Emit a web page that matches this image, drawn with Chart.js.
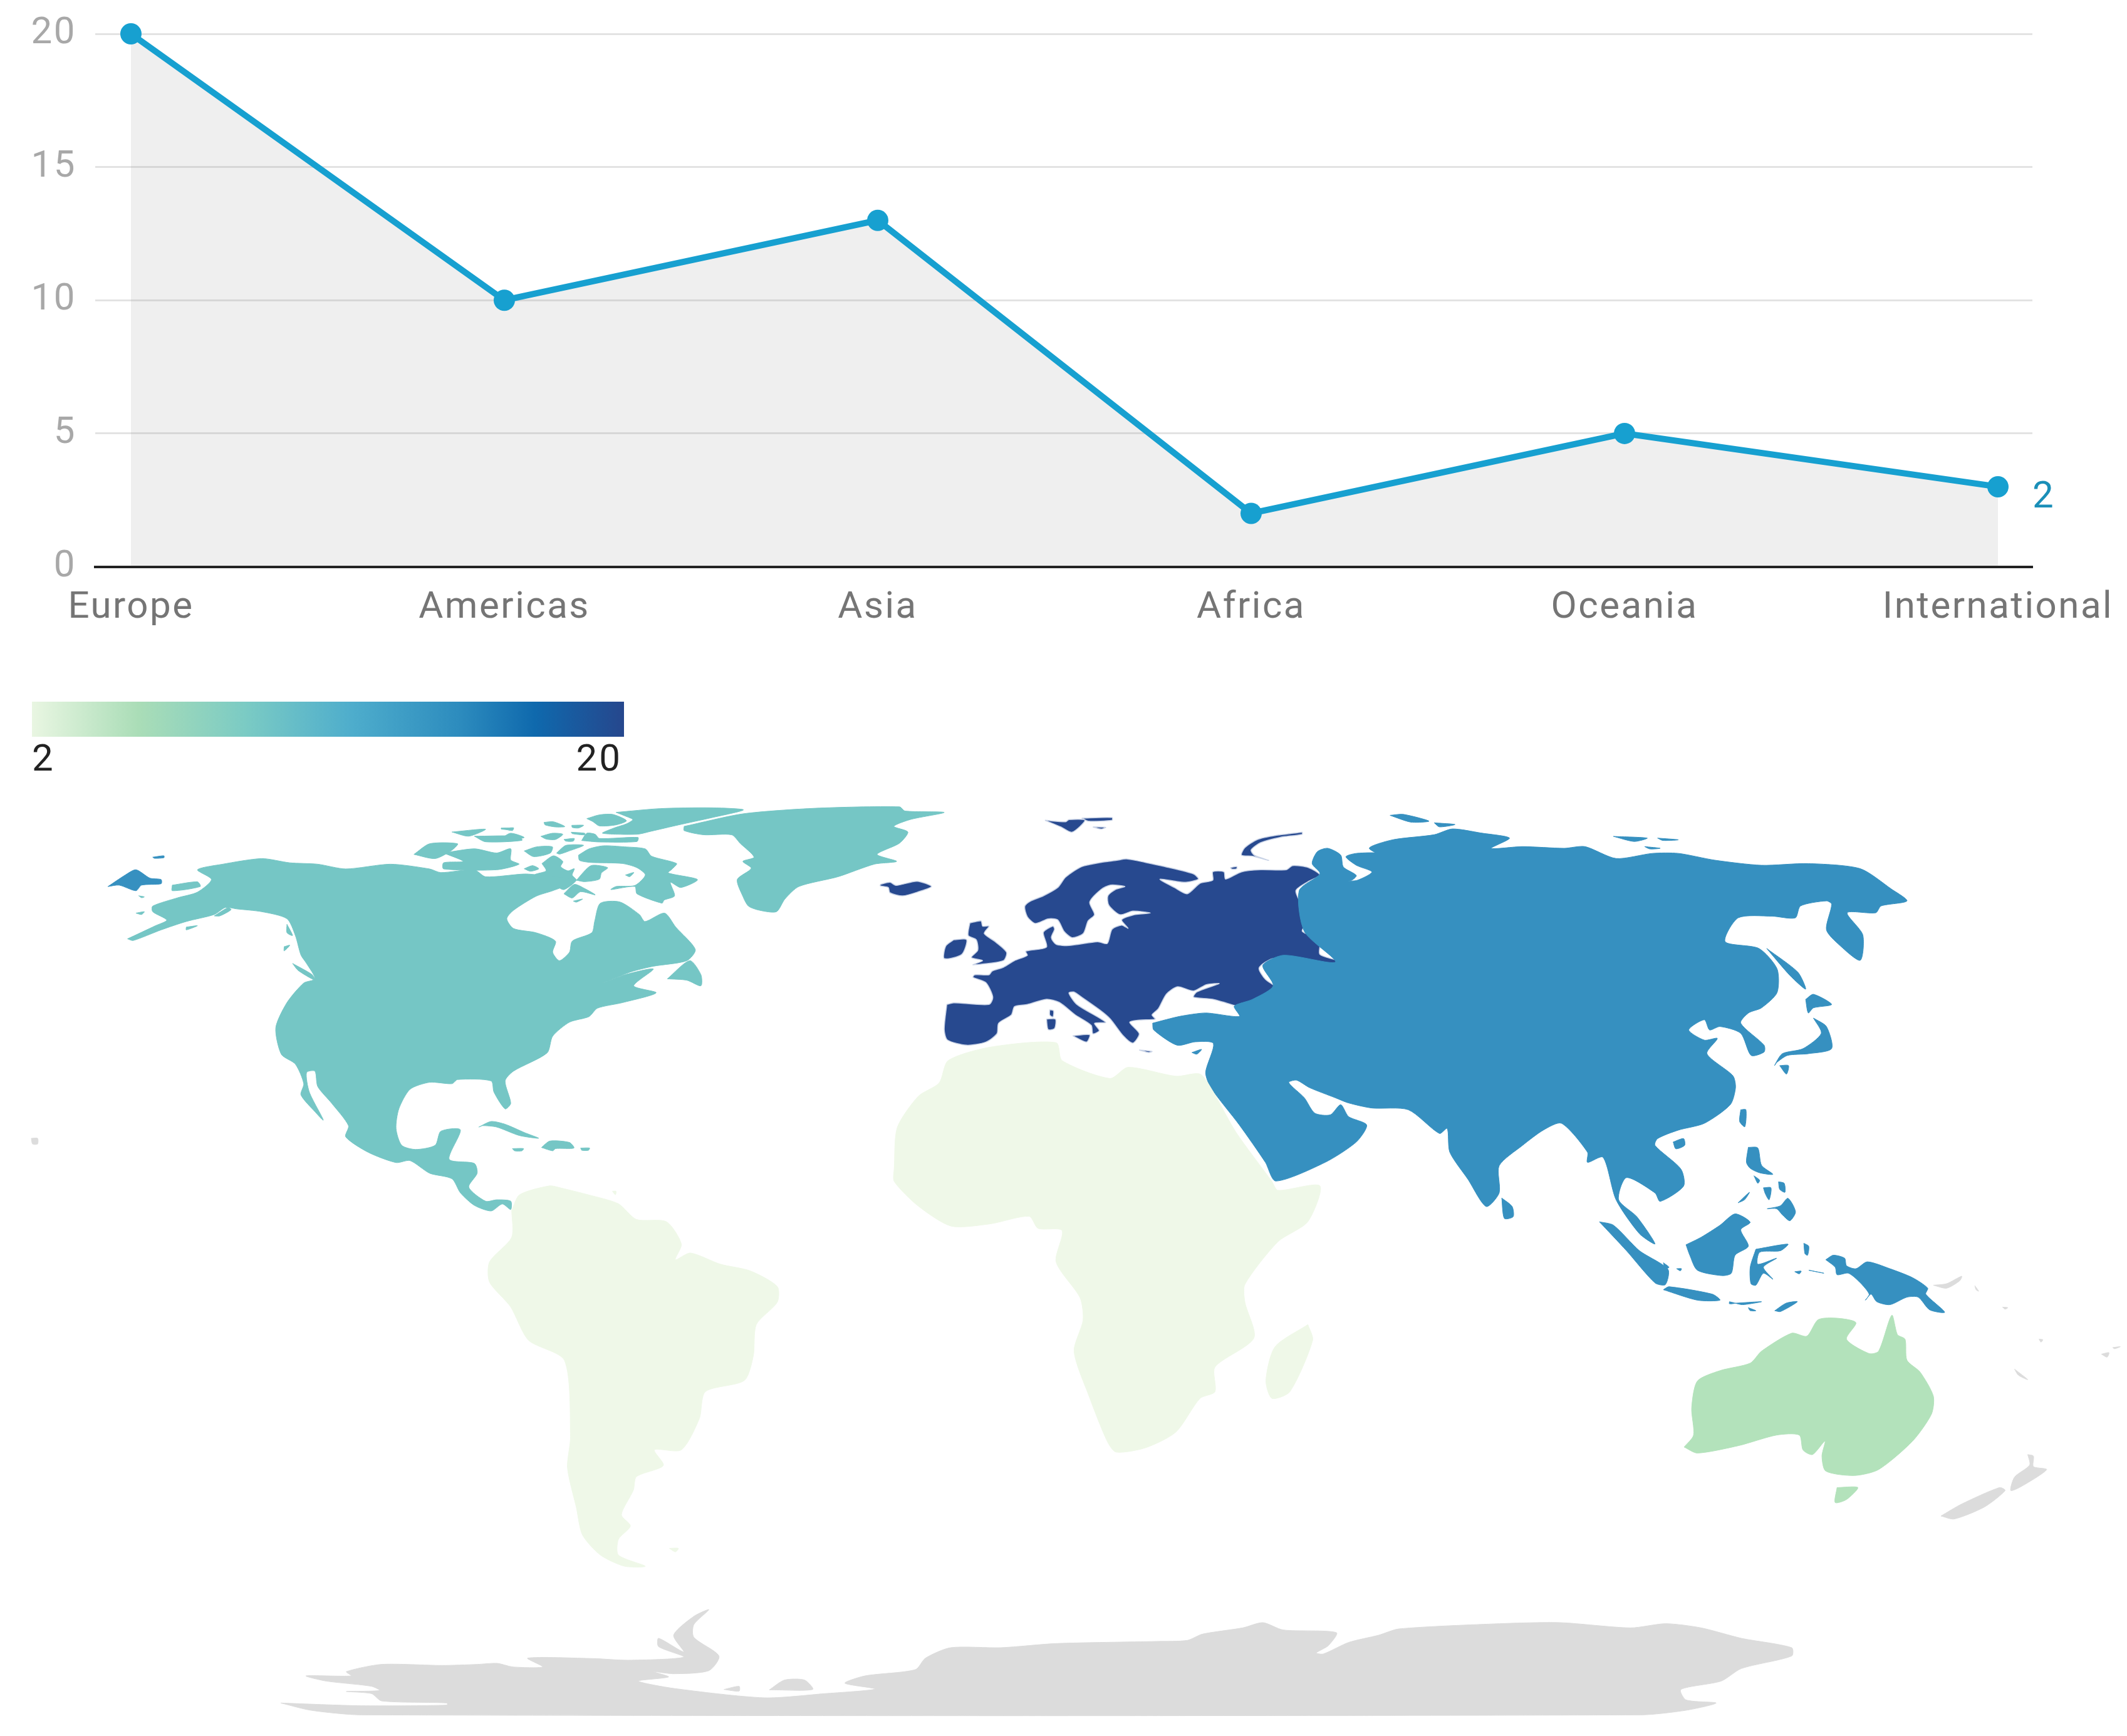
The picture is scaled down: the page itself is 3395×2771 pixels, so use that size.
<!DOCTYPE html>
<html>
<head>
<meta charset="utf-8">
<title>Regions</title>
<script src="https://cdn.jsdelivr.net/npm/chart.js@4"></script>
<style>
html,body{margin:0;padding:0;background:#fff;width:3395px;height:2771px;overflow:hidden;font-family:Roboto,sans-serif}
canvas{position:absolute;left:0;top:0}
#scaleBar{position:absolute;left:51px;top:1120px;width:945px;height:56px;
background:linear-gradient(to right,#e9f6e2 0%,#aaddb7 18%,#7bcbc4 36%,#4eadcc 54%,#2d8cbe 72%,#0f69ad 85%,#26478d 100%)}
.scaleLabel{position:absolute;top:1176px;font-size:60px;line-height:68px;color:#222;letter-spacing:3px}
</style>
</head>
<body>
<canvas id="mapChart" width="3395" height="2771"></canvas>
<canvas id="lineChart" width="3395" height="1040"></canvas>
<div id="scaleBar"></div>
<div class="scaleLabel" id="scaleMin" style="left:51px"></div>
<div class="scaleLabel" id="scaleMax" style="right:2402px"></div>
<script>

/* ---------------- LINE DATA ---------------- */

const regions = ["Europe","Americas","Asia","Africa","Oceania","International"]
const regionValues = [20,10,13,2,5,3]
const yTicks = [0,5,10,15,20]
const endLabel = "2"
const scaleRange = [2,20]


/* ---------------- MAP OUTLINES ---------------- */

// outlines were traced on zoomed crops, each crop is [left, top, scaleX, scaleY]
const CROP_NA = [150,1270,1.12,2.24]
const CROP_ARCTIC = [800,1280,3,3]
const CROP_EU = [1400,1270,1.96,3]
const CROP_AS = [1800,1270,1.206,1.845]
const CROP_SEA = [2450,1750,1.659,2.09]
const CROP_SOUTH = [700,1650,1.045,1.4]
const CROP_ANT = [400,2540,0.622,3]
const CROP_FULL = [0,0,1,1]

function shape(crop,flat){
const pts = []
for(let i=0;i<flat.length;i+=2){
pts.push({x:crop[0]+flat[i]/crop[2],y:crop[1]+flat[i+1]/crop[3]})
}
pts.push(pts[0])
return pts
}

const northAmerica = [
shape(CROP_NA,[60,512,110,465,130,445,105,415,105,395,150,365,185,345,210,300,185,265,230,245,300,225,350,240,400,245,450,262,530,245,600,262,620,275,680,265,700,290,770,280,800,285,855,300,845,320,820,340,790,360,750,410,738,440,750,475,790,490,825,520,820,560,832,590,850,560,855,520,890,490,895,450,905,385,940,380,975,425,985,450,1020,420,1040,470,1075,550,1060,590,1000,610,960,630,910,670,950,640,1000,620,965,680,1005,705,945,740,900,760,885,790,850,810,820,860,810,920,750,985,735,1020,745,1100,735,1120,715,1060,710,1020,650,1015,640,1030,600,1025,565,1050,545,1120,540,1190,550,1250,575,1265,610,1250,620,1200,655,1195,635,1300,680,1315,685,1350,670,1400,700,1450,720,1445,745,1450,745,1480,730,1460,710,1485,680,1465,655,1420,640,1370,600,1350,565,1305,540,1312,490,1275,450,1220,455,1180,425,1100,400,1040,395,985,380,990,385,1060,410,1160,395,1130,370,1070,375,1030,360,960,335,925,325,830,345,740,375,670,395,655,380,600,370,570,360,500,345,440,300,415,255,405,235,400,215,425,165,450,120,480,70,518]),
shape(CROP_NA,[572,210,600,172,650,172,640,195,610,225]),
shape(CROP_NA,[625,205,680,190,720,205,745,190,745,230,760,245,720,265,625,262,625,240,660,235]),
shape(CROP_NA,[640,130,700,120,670,145]),
shape(CROP_NA,[680,145,760,145,765,160,700,165]),
shape(CROP_NA,[730,118,750,115,748,125]),
shape(CROP_NA,[1025,655,1065,590,1085,640,1085,680,1060,660]),
shape(CROP_NA,[355,600,390,640,395,660,365,625]),
shape(CROP_NA,[340,540,350,535,340,555]),
shape(CROP_NA,[345,460,355,500,345,490]),
shape(CROP_NA,[165,470,185,465,165,480]),
shape(CROP_NA,[215,430,240,400,245,408,225,430]),
shape(CROP_NA,[140,320,185,308,190,325,140,340]),
shape(CROP_NA,[75,420,90,415,85,425]),
shape(CROP_NA,[80,358,90,362,85,365]),
shape(CROP_NA,[688,1185,710,1165,735,1175,770,1205,795,1225,760,1215,720,1185,695,1180]),
shape(CROP_NA,[800,1258,815,1235,850,1240,858,1260,825,1262,820,1270]),
shape(CROP_NA,[748,1262,768,1262,765,1270,752,1270]),
shape(CROP_NA,[870,1260,886,1260,884,1268,872,1268]),
shape(CROP_NA,[1055,110,1160,65,1290,45,1440,40,1450,55,1520,60,1460,85,1430,110,1455,130,1440,170,1400,210,1435,235,1395,245,1330,290,1260,325,1235,370,1220,415,1190,410,1170,395,1160,360,1150,300,1175,260,1160,235,1180,220,1155,170,1140,140,1090,140,1055,125]),
shape(CROP_ARCTIC,[550,50,760,32,1000,28,1160,38,1010,75,850,110,720,140,650,155,485,150,540,125,600,105,630,85,600,70]),
shape(CROP_ARCTIC,[410,80,470,62,535,60,600,90,550,110,470,115,440,95]),
shape(CROP_ARCTIC,[385,185,410,150,450,155,470,175,655,170,650,190,470,192]),
shape(CROP_ARCTIC,[335,145,400,150,400,158,340,152]),
shape(CROP_ARCTIC,[205,98,250,95,305,118,260,120,210,110]),
shape(CROP_ARCTIC,[338,112,395,112,370,125,340,122]),
shape(CROP_ARCTIC,[190,165,245,150,295,155,260,180,215,178]),
shape(CROP_ARCTIC,[300,180,350,175,345,188,310,188]),
shape(CROP_ARCTIC,[0,125,60,125,30,132,0,130]),
shape(CROP_ARCTIC,[0,175,45,150,110,170,60,180,0,185]),
shape(CROP_ARCTIC,[110,235,170,215,245,215,235,245,155,262]),
shape(CROP_ARCTIC,[265,245,310,208,395,208,325,235,280,250]),
shape(CROP_ARCTIC,[370,255,420,225,490,210,590,215,690,225,720,260,840,295,820,320,800,340,940,372,860,410,810,385,830,450,780,470,770,485,650,440,640,405,525,420,550,405,640,400,690,350,650,315,580,295,430,290,375,280]),
shape(CROP_ARCTIC,[195,295,250,258,295,285,285,310,320,330,350,320,340,350,360,375,300,420,260,400,160,350,215,330]),
shape(CROP_ARCTIC,[300,440,350,395,400,415,450,445,380,430,340,460]),
shape(CROP_ARCTIC,[345,475,390,465,360,480]),
shape(CROP_ARCTIC,[360,375,430,305,510,315,480,340,470,370,400,382]),
shape(CROP_ARCTIC,[110,320,150,305,180,320,140,332]),
shape(CROP_ARCTIC,[595,350,635,338,615,358])
]

const southAmerica = [
shape(CROP_SOUTH,[122,395,135,360,185,340,205,345,250,360,300,380,330,415,380,420,405,470,395,505,420,490,470,515,520,530,565,565,565,600,530,650,525,720,510,775,445,800,435,860,405,930,360,930,375,965,330,990,325,1020,305,1075,320,1100,300,1130,300,1165,345,1190,310,1190,270,1165,240,1120,230,1060,215,970,220,900,210,730,150,685,120,610,85,555,85,510,122,455]),
shape(CROP_SOUTH,[385,1150,400,1150,395,1158]),
shape(CROP_SOUTH,[290,352,296,352,295,360])
]

const africa = [
shape(CROP_SOUTH,[760,300,765,210,800,140,835,110,850,60,920,30,1030,20,1040,60,1120,100,1150,75,1230,95,1270,90,1290,125,1330,220,1390,330,1400,350,1470,340,1450,420,1400,465,1345,560,1345,600,1360,680,1295,745,1295,800,1270,815,1230,890,1180,925,1130,935,1115,910,1085,810,1060,710,1075,640,1070,590,1030,510,1040,440,1000,435,985,408,920,425,855,430,800,385,760,330]),
shape(CROP_SOUTH,[1450,650,1458,685,1420,800,1390,815,1380,775,1395,700])
]

const europe = [
shape(CROP_EU,[218,1000,240,992,350,1000,362,965,340,895,300,870,305,858,350,858,360,840,395,822,430,790,470,765,465,745,530,725,520,655,550,625,555,640,545,680,560,712,600,718,690,700,720,708,735,640,765,620,785,635,765,595,800,572,855,562,800,553,760,570,725,525,722,480,745,450,775,435,730,428,700,450,665,510,680,570,660,600,645,660,610,680,585,650,565,595,535,590,495,612,470,580,462,530,480,505,520,480,565,440,590,390,640,340,700,320,750,310,780,303,840,320,900,340,990,375,1005,400,960,415,885,400,930,440,970,470,1010,420,1050,405,1050,365,1085,365,1090,400,1140,365,1200,355,1280,355,1300,335,1350,345,1385,380,1350,410,1310,455,1330,530,1345,600,1330,650,1385,690,1385,760,1440,790,1430,805,1350,800,1240,780,1195,825,1215,880,1265,935,1255,970,1275,1020,1250,1055,1180,1030,1130,1010,1050,975,990,965,1000,940,1070,900,1030,905,990,935,940,915,905,950,880,1020,860,1050,870,1070,820,1075,790,1085,820,1140,800,1185,770,1150,730,1070,700,1030,640,965,615,940,600,945,625,1000,715,1085,680,1090,695,1125,675,1140,670,1100,620,1050,570,990,530,975,470,1000,430,1010,420,1050,380,1090,375,1140,340,1180,280,1195,220,1170,210,1120]),
shape(CROP_EU,[290,610,325,600,330,625,350,625,335,660,370,700,405,750,395,790,300,810,330,790,295,775,315,740,310,690,285,670]),
shape(CROP_EU,[240,690,280,690,265,760,210,780,215,720]),
shape(CROP_EU,[10,425,40,415,60,430,125,410,170,435,130,460,80,480,40,465,35,440,10,432]),
shape(CROP_EU,[525,118,590,125,600,115,650,118,610,175,575,150]),
shape(CROP_EU,[640,108,735,105,735,118,660,122]),
shape(CROP_EU,[675,150,715,152,700,160]),
shape(CROP_EU,[1330,175,1250,190,1190,210,1150,250,1140,285,1175,290,1225,310,1180,285,1170,260,1200,225,1260,200,1330,185]),
shape(CROP_EU,[540,1025,552,1030,550,1060,540,1050]),
shape(CROP_EU,[530,1070,558,1070,555,1115,535,1120]),
shape(CROP_EU,[612,1150,665,1145,655,1180]),
shape(CROP_EU,[820,1218,860,1225,850,1230]),
shape(CROP_EU,[1105,345,1125,340,1125,350,1110,352])
]

const asia = [
shape(CROP_AS,[48,670,100,650,150,640,215,650,205,620,240,600,280,560,260,500,300,470,400,490,340,400,330,280,370,230,355,200,365,165,385,155,410,175,415,210,440,235,430,250,410,250,440,250,470,225,440,205,420,180,440,170,490,170,510,190,465,155,510,130,590,115,625,98,680,110,735,125,700,155,760,150,840,155,880,150,940,185,1010,170,1060,170,1130,190,1220,205,1310,200,1410,215,1470,275,1500,310,1450,325,1440,345,1385,345,1415,410,1410,485,1370,440,1345,395,1355,320,1345,310,1295,325,1285,360,1240,355,1175,360,1150,430,1215,450,1250,510,1250,580,1220,625,1195,640,1180,670,1225,735,1225,755,1200,765,1180,700,1140,680,1120,690,1110,660,1080,690,1110,720,1135,715,1115,760,1165,825,1170,860,1160,910,1110,965,1060,985,1020,1010,1015,1030,1065,1100,1070,1150,1025,1195,1015,1170,960,1125,945,1190,980,1240,1015,1320,985,1290,940,1190,915,1065,885,1080,885,1050,835,965,800,985,760,1030,715,1090,715,1170,690,1210,655,1130,620,1050,615,980,600,995,540,925,470,920,425,905,400,890,350,860,325,838,310,845,340,890,360,935,390,940,410,910,425,945,460,970,440,1020,380,1080,285,1135,265,1080,215,970,160,860,150,815,165,730,130,725,95,735,50,690]),
shape(CROP_NA,[25,325,55,285,75,265,100,295,120,300,120,315,85,320,75,340,45,320]),
shape(CROP_NA,[105,220,125,215,125,222,108,224]),
shape(CROP_EU,[985,1230,1015,1215,1000,1238]),
shape(CROP_AS,[505,58,530,55,580,75,545,78]),
shape(CROP_AS,[590,80,630,85,600,92]),
shape(CROP_AS,[935,120,1000,125,975,135]),
shape(CROP_AS,[1020,125,1060,130,1030,132]),
shape(CROP_AS,[995,150,1025,155,1005,157]),
shape(CROP_AS,[1230,450,1290,520,1305,570,1275,530]),
shape(CROP_AS,[1305,600,1320,585,1355,615,1320,625,1310,640]),
shape(CROP_AS,[1320,655,1345,680,1355,745,1310,760,1270,765,1250,785,1245,795,1260,760,1300,745,1335,700]),
shape(CROP_AS,[1255,795,1272,795,1268,820]),
shape(CROP_AS,[1180,925,1190,925,1188,975,1178,960]),
shape(CROP_AS,[1050,1020,1070,1010,1072,1030,1055,1040]),
shape(CROP_AS,[720,1185,740,1210,742,1240,725,1245]),
shape(CROP_AS,[908,1255,935,1265,985,1340,1040,1395,1035,1440,1015,1435,960,1340]),
shape(CROP_SEA,[400,495,440,470,490,430,530,392,570,420,545,445,565,500,530,530,520,590,495,598,430,580,410,530]),
shape(CROP_SEA,[585,510,670,493,650,515,595,520,590,560,640,540,605,570,630,610,605,590,585,630,572,625,570,570]),
shape(CROP_SEA,[340,645,355,635,470,660,490,680,430,680]),
shape(CROP_SEA,[515,685,530,690,515,692]),
shape(CROP_SEA,[530,690,600,685,550,695]),
shape(CROP_SEA,[635,715,665,690,695,685,650,718]),
shape(CROP_SEA,[565,705,585,715,570,715]),
shape(CROP_SEA,[565,170,590,172,600,230,630,260,595,255,570,240,560,220]),
shape(CROP_SEA,[615,375,650,365,670,340,690,385,675,415,655,395,640,375]),
shape(CROP_SEA,[605,305,625,305,620,345,610,325]),
shape(CROP_SEA,[645,285,660,290,662,320,648,310]),
shape(CROP_SEA,[538,355,568,320,555,345]),
shape(CROP_SEA,[580,265,595,280,590,290]),
shape(CROP_SEA,[770,545,790,530,820,540,825,565,850,575,880,552,940,575,1000,605,1040,640,1035,660,1085,720,1045,712,1015,670,985,670,940,695,905,685,890,660,875,680,885,660,860,620,830,590,800,595,795,570]),
shape(CROP_SEA,[725,580,765,590,745,585]),
shape(CROP_SEA,[688,585,705,583,700,592]),
shape(CROP_SEA,[712,490,725,500,722,530,715,525]),
shape(CROP_SEA,[340,555,355,570,345,575]),
shape(CROP_SEA,[375,575,388,575,385,582])
]

const oceania = [
shape(CROP_SEA,[395,1170,420,1130,415,1040,430,950,490,915,570,890,600,850,680,790,720,800,750,745,800,740,850,755,825,810,885,858,910,850,945,730,960,795,980,810,985,880,1020,920,1055,1000,1050,1060,1000,1150,910,1245,845,1265,770,1250,760,1200,768,1150,735,1195,710,1180,700,1130,640,1130,540,1165,430,1190]),
shape(CROP_SEA,[800,1305,855,1305,825,1345,795,1355])
]

const noData = [
shape(CROP_SEA,[1305,1195,1320,1200,1320,1235,1355,1245,1290,1300,1260,1315,1270,1270,1310,1230]),
shape(CROP_SEA,[1075,1400,1130,1360,1230,1305,1245,1315,1190,1370,1110,1410]),
shape(CROP_SEA,[1270,910,1305,945,1280,930]),
shape(CROP_SEA,[1055,630,1090,625,1130,600,1125,615,1090,640]),
shape(CROP_SEA,[1165,632,1175,650,1168,645]),
shape(CROP_SEA,[1238,703,1252,705,1245,710]),
shape(CROP_SEA,[1335,810,1345,812,1340,820]),
shape(CROP_SEA,[1500,860,1520,855,1515,870]),
shape(CROP_SEA,[1530,838,1550,835,1535,842]),
shape(CROP_FULL,[50,1817,60,1817,60,1826,52,1826]),
shape(CROP_ANT,[30,535,110,548,195,545,195,535,130,525,120,490,95,480,128,475,120,455,75,430,55,405,100,405,95,385,130,350,190,355,225,350,245,345,260,362,290,362,275,320,340,322,375,330,430,315,405,265,405,225,430,290,420,210,440,120,455,88,440,160,440,220,465,310,455,380,420,395,400,385,415,410,385,430,420,465,510,510,570,490,620,468,590,440,610,405,660,375,670,320,695,270,745,270,800,250,900,240,930,235,945,205,985,175,1005,150,1025,185,1078,198,1070,260,1058,295,1065,300,1090,245,1120,210,1140,180,1240,155,1300,150,1370,175,1405,155,1440,175,1480,225,1530,270,1530,310,1480,370,1460,430,1420,470,1425,520,1455,535,1425,570,1380,592,110,592,60,570]),
shape(CROP_ANT,[515,472,530,425,550,425,558,470]),
shape(CROP_ANT,[470,470,485,455,485,478])
]


/* ---------------- LINE CHART ---------------- */

const wideText = {
id:"wideText",
beforeDraw(chart){
chart.ctx.letterSpacing = "2.5px"
}
}

const endLabelPlugin = {
id:"endLabel",
afterDatasetsDraw(chart){
const last = chart.getDatasetMeta(0).data[regions.length-1]
const ctx = chart.ctx
ctx.save()
ctx.font = "60px Roboto"
ctx.fillStyle = "#1a8fb8"
ctx.textAlign = "left"
ctx.textBaseline = "middle"
ctx.fillText(endLabel,last.x+55,last.y+18)
ctx.restore()
}
}

new Chart(document.getElementById("lineChart"),{
type:"line",
data:{
datasets:[{
data:regions.map((r,i)=>({x:i,y:regionValues[i]})),
borderColor:"#17a0d0",
borderWidth:10,
backgroundColor:"rgba(110,110,110,0.11)",
fill:"origin",
tension:0,
pointRadius:17,
pointBackgroundColor:"#17a0d0",
pointBorderWidth:0,
clip:false
}]
},
options:{
responsive:false,
animation:false,
layout:{padding:{top:54,right:151}},
plugins:{legend:{display:false},tooltip:{enabled:false}},
scales:{
x:{
type:"linear",
min:-0.0956,
max:5.0923,
afterBuildTicks:s=>{s.ticks=regions.map((r,i)=>({value:i}))},
afterFit:s=>{s.height=135.5},
grid:{display:false},
border:{color:"#222",width:4},
ticks:{
autoSkip:false,
maxRotation:0,
padding:22,
font:{family:"Roboto",size:60},
color:"#757575",
callback:v=>regions[v]
}
},
y:{
min:yTicks[0],
max:yTicks[yTicks.length-1],
afterBuildTicks:s=>{s.ticks=yTicks.map(v=>({value:v}))},
afterFit:s=>{s.width=152;s.paddingTop=0;s.paddingBottom=0},
grid:{color:"#e3e3e3",lineWidth:3,drawTicks:false},
border:{display:false},
ticks:{
padding:30,
font:{family:"Roboto",size:60},
color:"#a8a8a8"
}
}
}
},
plugins:[wideText,endLabelPlugin]
})


/* ---------------- MAP CHART ---------------- */

const mapLayers = [
{shapes:noData,color:"#dcdcdc",border:"#dcdcdc",width:1},
{shapes:southAmerica,color:"#eff8e8",border:"#eff8e8",width:1},
{shapes:africa,color:"#eff8e8",border:"#eff8e8",width:1},
{shapes:northAmerica,color:"#75c6c5",border:"#75c6c5",width:1},
{shapes:oceania,color:"#b3e2bb",border:"#b3e2bb",width:1},
{shapes:asia,color:"#3690c0",border:"#3690c0",width:1},
{shapes:europe,color:"#27498f",border:"#c9d3e6",width:1.5}
]

const mapDatasets = []
mapLayers.forEach(layer=>{
layer.shapes.forEach(pts=>{
mapDatasets.push({
data:pts,
showLine:true,
fill:"shape",
tension:0.25,
pointRadius:0,
backgroundColor:layer.color,
borderColor:layer.border,
borderWidth:layer.width
})
})
})

new Chart(document.getElementById("mapChart"),{
type:"scatter",
data:{datasets:mapDatasets},
options:{
responsive:false,
animation:false,
layout:{padding:0},
plugins:{legend:{display:false},tooltip:{enabled:false}},
scales:{
x:{type:"linear",display:false,min:0,max:3395},
y:{type:"linear",display:false,min:0,max:2771,reverse:true}
}
}
})


/* ---------------- COLOUR SCALE ---------------- */

document.getElementById("scaleMin").innerText = scaleRange[0]
document.getElementById("scaleMax").innerText = scaleRange[1]

</script>
</body>
</html>
